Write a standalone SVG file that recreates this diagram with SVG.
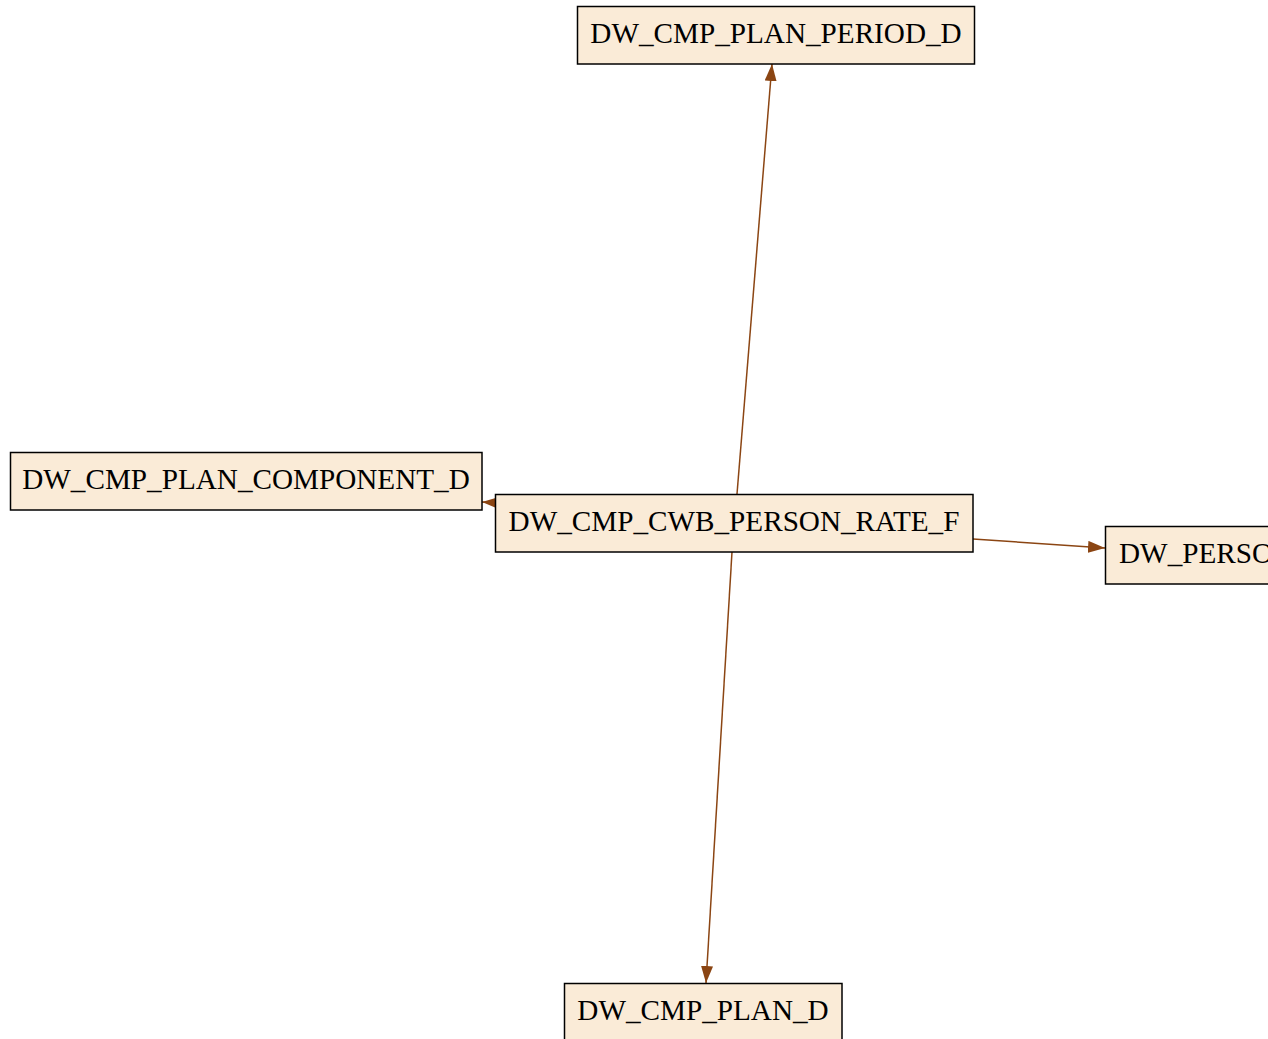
<svg xmlns="http://www.w3.org/2000/svg" width="1268" height="1039" viewBox="0 0 1268 1039">
<defs>
<style>
.node rect{fill:#FAEBD7;stroke:#000;stroke-width:1.5}
.node text{font-family:"Liberation Serif","Times New Roman",serif;font-size:29.2px;fill:#000}
.edge line{stroke:#8B4513;stroke-width:1.5}
</style>
<marker id="arr" viewBox="0 0 17 12" refX="17" refY="6" markerWidth="17" markerHeight="12" markerUnits="userSpaceOnUse" orient="auto">
<path d="M0,0 L17,6 L0,12 Z" fill="#8B4513"/>
</marker>
</defs>
<rect width="1268" height="1039" fill="#fff"/>
<g id="edges" class="edge">
<line x1="737" y1="494" x2="772" y2="64" marker-end="url(#arr)"/>
<line x1="732" y1="552" x2="706" y2="983" marker-end="url(#arr)"/>
<line x1="973" y1="539" x2="1105" y2="548" marker-end="url(#arr)"/>
<line x1="499" y1="503" x2="482" y2="502" marker-end="url(#arr)"/>
</g>
<g id="n_period" class="node"><rect x="577.5" y="6.5" width="397" height="57.5"/><text x="776" y="42.5" text-anchor="middle">DW_CMP_PLAN_PERIOD_D</text></g>
<g id="n_component" class="node"><rect x="10.5" y="452.5" width="471.5" height="57.5"/><text x="246" y="488.5" text-anchor="middle">DW_CMP_PLAN_COMPONENT_D</text></g>
<g id="n_center" class="node"><rect x="495.5" y="494.5" width="477.5" height="57.5"/><text x="734" y="530.5" text-anchor="middle">DW_CMP_CWB_PERSON_RATE_F</text></g>
<g id="n_person" class="node"><rect x="1105.5" y="526.5" width="300" height="57.5"/><text x="1119" y="562.5">DW_PERSON_D</text></g>
<g id="n_plan" class="node"><rect x="564.5" y="983.5" width="277.5" height="57.5"/><text x="703" y="1019.5" text-anchor="middle">DW_CMP_PLAN_D</text></g>
</svg>
